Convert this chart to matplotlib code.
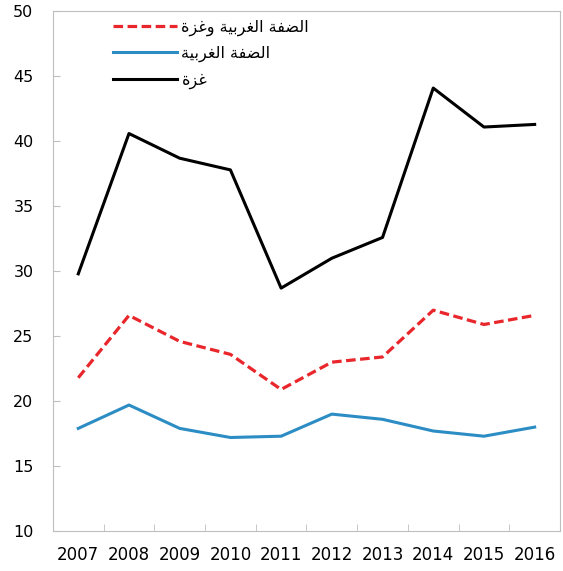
import matplotlib.pyplot as plt

years = ['2007', '2008', '2009', '2010', '2011', '2012', '2013', '2014', '2015', '2016']
wbg = [21.8, 26.6, 24.6, 23.6, 20.9, 23.0, 23.4, 27.0, 25.9, 26.6]
wb = [17.9, 19.7, 17.9, 17.2, 17.3, 19.0, 18.6, 17.7, 17.3, 18.0]
gaza = [29.8, 40.6, 38.7, 37.8, 28.7, 31.0, 32.6, 44.1, 41.1, 41.3]
labels = ['الضفة الغربية وغزة', 'الضفة الغربية', 'غزة']

# matplotlib has no arabic shaping, so pick the joined forms by hand
FORMS = {
    'ا': ('\ufe8d', '\ufe8e', None, None),
    'ل': ('\ufedd', '\ufede', '\ufedf', '\ufee0'),
    'ض': ('\ufebd', '\ufebe', '\ufebf', '\ufec0'),
    'ف': ('\ufed1', '\ufed2', '\ufed3', '\ufed4'),
    'ة': ('\ufe93', '\ufe94', None, None),
    'غ': ('\ufecd', '\ufece', '\ufecf', '\ufed0'),
    'ر': ('\ufead', '\ufeae', None, None),
    'ب': ('\ufe8f', '\ufe90', '\ufe91', '\ufe92'),
    'ي': ('\ufef1', '\ufef2', '\ufef3', '\ufef4'),
    'و': ('\ufeed', '\ufeee', None, None),
    'ز': ('\ufeaf', '\ufeb0', None, None),
}


def shape(s):
    out = []
    for i, c in enumerate(s):
        if c not in FORMS:
            out.append(c)
            continue
        prev = s[i - 1] if i > 0 else ''
        nxt = s[i + 1] if i + 1 < len(s) else ''
        jp = prev in FORMS and FORMS[prev][2] is not None
        jn = nxt in FORMS and FORMS[c][2] is not None
        iso, fin, ini, med = FORMS[c]
        if jp and jn:
            out.append(med)
        elif jp:
            out.append(fin)
        elif jn:
            out.append(ini)
        else:
            out.append(iso)
    return ''.join(out)[::-1]


plt.rcParams['font.family'] = ['DejaVu Sans']
fig = plt.figure(figsize=(5.63, 5.71), dpi=100)
ax = fig.add_axes([0.094, 0.070, 0.9007, 0.910])

x = range(len(years))
ax.plot(x, wbg, color='#E8262B', lw=2.3, dashes=(3.0, 1.4), label=shape(labels[0]))
ax.plot(x, wb, color='#2C8CC4', lw=2.2, label=shape(labels[1]))
ax.plot(x, gaza, color='black', lw=2.2, label=shape(labels[2]))

ax.set_xlim(-0.5, len(years) - 0.5)
ax.set_ylim(10, 50)
ax.set_yticks(range(10, 51, 5))
ax.set_xticks(x)
ax.set_xticklabels(years)
ax.set_xticks([i + 0.5 for i in range(len(years) - 1)], minor=True)
ax.tick_params(axis='x', which='major', length=0, pad=11, labelsize=12)
ax.tick_params(axis='x', which='minor', direction='in', length=5, color='#BFBFBF')
ax.tick_params(axis='y', direction='in', length=5, color='#BFBFBF', pad=14, labelsize=11.5)
for s in ax.spines.values():
    s.set_color('#BFBFBF')

ax.legend(loc='upper left', bbox_to_anchor=(0.118, 0.985), frameon=False,
          handlelength=4.0, handletextpad=0.3, labelspacing=0.64, borderpad=0,
          borderaxespad=0, fontsize=11.5)

fig.savefig('out.png', dpi=100)
